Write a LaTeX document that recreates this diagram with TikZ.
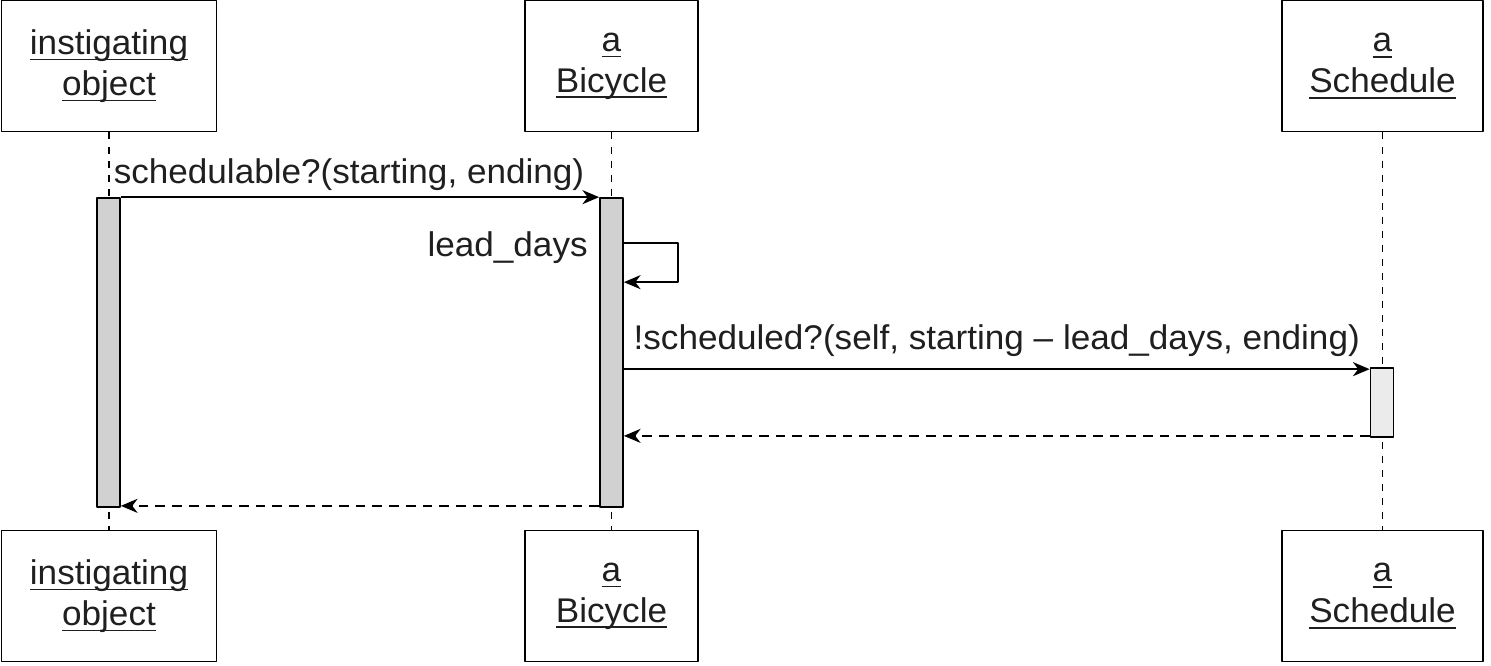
\documentclass[tikz,border=0pt]{standalone}
\usepackage{fontspec}
\setmainfont{Liberation Sans}[FakeStretch=1.025]
\usetikzlibrary{calc,arrows.meta}

% underlined object name, rule crossing the descenders
\newcommand{\objname}[1]{\setbox0\hbox{#1}\rlap{\rule[-3.4pt]{\wd0}{0.9pt}}\box0}

\begin{document}
\begin{tikzpicture}[x=0.02cm, y=-0.02cm, line join=round,
		>={Stealth[length=9.5pt,width=8pt,inset=3pt]},
		font=\fontsize{19.5}{23.2}\selectfont, text=black!88,
		obj/.style={draw, line width=1.1pt, align=center, inner sep=0pt, minimum height=2.62cm},
		life/.style={line width=0.8pt, dash pattern=on 4pt off 4pt},
		bar/.style={draw, line width=1pt, inner sep=0pt, minimum width=0.46cm},
		msg/.style={->, line width=1.1pt},
		ret/.style={->, line width=1.1pt, dash pattern=on 5.5pt off 4pt}]
	\useasboundingbox (0,0) rectangle (1491,666);
	
	% Objects top and bottom
	\node[obj, minimum width=4.3cm]  (inst)     at (109,66)   {\objname{instigating}\\\objname{object}};
	\node[obj, minimum width=3.46cm] (bike)     at (611.5,66) {\objname{a}\\\objname{Bicycle}};
	\node[obj, minimum width=4.02cm] (sched)    at (1382.5,66) {\objname{a}\\\objname{Schedule}};
	\node[obj, minimum width=4.3cm]  (instbot)  at (109,596)   {\objname{instigating}\\\objname{object}};
	\node[obj, minimum width=3.46cm] (bikebot)  at (611.5,596) {\objname{a}\\\objname{Bicycle}};
	\node[obj, minimum width=4.02cm] (schedbot) at (1382.5,596) {\objname{a}\\\objname{Schedule}};
	
	% Lifelines
	\draw[life] (inst) -- (instbot);
	\draw[life] (bike) -- (bikebot);
	\draw[life] (sched) -- (schedbot);
	
	% Activation bars
	\node[bar, fill=black!18, minimum height=6.18cm] (instbar)  at (108.5,352.5) {};
	\node[bar, fill=black!18, minimum height=6.18cm] (bikebar)  at (611.5,352.5) {};
	\node[bar, fill=black!8,  minimum height=1.38cm] (schedbar) at (1382,402.5)  {};
	
	% Messages
	\draw[msg] (instbar.north east) -- node[midway, above, xshift=-0.22cm] (schedmsg) {schedulable?(starting, ending)} (bikebar.north west);
	
	\coordinate (selfout) at ($(bikebar.north east)+(0,46)$);
	\coordinate (selfin)  at ($(bikebar.north east)+(0,85)$);
	\draw[msg] (selfout) -- ++(54,0) |- (selfin);
	\node[anchor=east] (leaddays) at ($(selfout)+(-30,4)$) {lead\_days};
	
	\draw[msg] ($(bikebar.north east)+(0,172)$) coordinate (askout) -- node[midway, above=0.12cm] (askmsg) {!scheduled?(self, starting – lead\_days, ending)} (askout -| schedbar.west);
	
	% Returns
	\draw[ret] ($(schedbar.south west)+(0,-2)$) coordinate (answer) -- (answer -| bikebar.east);
	\draw[ret] ($(bikebar.south west)+(0,-2)$) coordinate (result) -- (result -| instbar.east);
\end{tikzpicture}
\end{document}
